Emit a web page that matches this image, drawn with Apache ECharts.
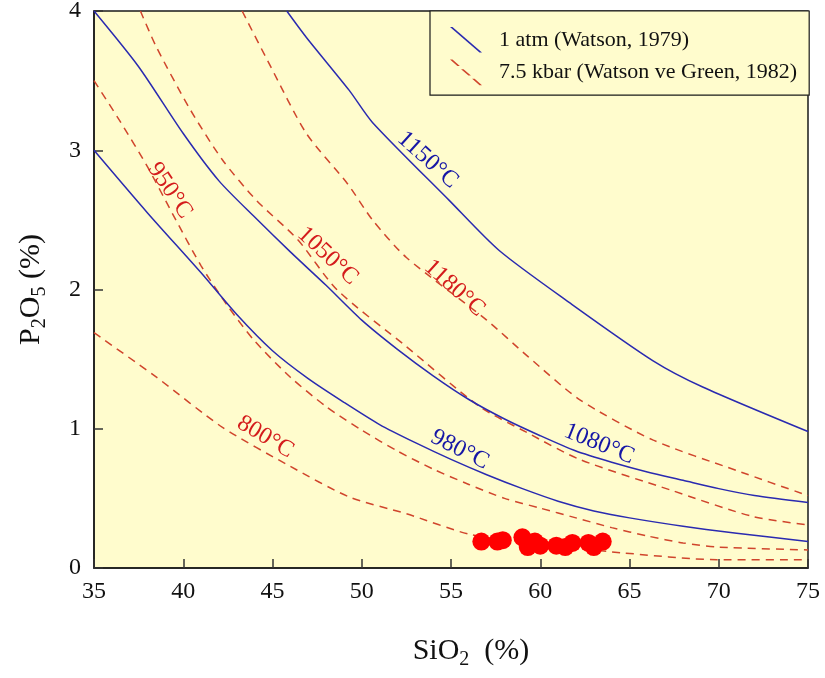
<!DOCTYPE html>
<html><head><meta charset="utf-8">
<script src="https://cdn.jsdelivr.net/npm/echarts@6/dist/echarts.min.js"></script>
<style>html,body{margin:0;padding:0;background:#fff}#c{width:825px;height:678px}</style>
</head><body><div id="c"></div>
<script>
// ---- data (SiO2 %, P2O5 %) ----
const xTicks = [35, 40, 45, 50, 55, 60, 65, 70, 75];
const yTicks = [0, 1, 2, 3, 4];

const atmName = '1 atm (Watson, 1979)';
const kbarName = '7.5 kbar (Watson ve Green, 1982)';

// 1 atm isotherms (Watson, 1979)
const atm980X = [35, 38, 41, 43, 45, 47, 49, 51, 53, 55, 57, 59, 61, 63, 65, 68, 71, 75];
const atm980Y = [3.0, 2.55, 2.12, 1.82, 1.56, 1.36, 1.19, 1.03, 0.90, 0.78, 0.67, 0.57, 0.48, 0.41, 0.36, 0.30, 0.25, 0.19];
const atm1080X = [35, 37.5, 40, 42, 44, 46, 48, 50, 52, 54, 56, 58, 60, 62, 64, 66, 68, 70, 72, 75];
const atm1080Y = [4.0, 3.6, 3.12, 2.78, 2.52, 2.27, 2.03, 1.78, 1.57, 1.38, 1.21, 1.07, 0.95, 0.84, 0.76, 0.69, 0.63, 0.57, 0.52, 0.47];
const atm1150X = [45.8, 46.9, 49.3, 50.6, 54.9, 57.7, 61.7, 66.3, 69.1, 75];
const atm1150Y = [4.0, 3.81, 3.43, 3.20, 2.64, 2.28, 1.90, 1.49, 1.30, 0.98];

// 7.5 kbar isotherms (Watson & Green, 1982)
const kb800X = [35, 38.5, 42.2, 46, 49.3, 52.5, 56.1, 60, 64.5, 69.9, 75];
const kb800Y = [1.69, 1.37, 1.01, 0.73, 0.51, 0.39, 0.24, 0.17, 0.11, 0.06, 0.06];
const kb950X = [35, 36.5, 38, 39.5, 41, 42.5, 44, 46, 48, 50, 52, 54, 56, 58, 60, 62, 64, 66, 68, 70, 75];
const kb950Y = [3.50, 3.20, 2.88, 2.52, 2.17, 1.88, 1.63, 1.37, 1.16, 0.99, 0.84, 0.71, 0.60, 0.50, 0.43, 0.36, 0.29, 0.23, 0.18, 0.15, 0.13];
const kb1050X = [37.6, 38.5, 40.4, 42.2, 44.1, 46.4, 48.6, 52.5, 56.6, 59.3, 62.2, 67.3, 71.9, 75];
const kb1050Y = [4.0, 3.74, 3.29, 2.93, 2.64, 2.36, 2.00, 1.59, 1.16, 0.97, 0.78, 0.56, 0.37, 0.31];
const kb1180X = [43.3, 44.9, 46.9, 49.2, 50.6, 52.5, 57.0, 59.3, 62.2, 66.3, 71.0, 75];
const kb1180Y = [4.0, 3.60, 3.12, 2.76, 2.50, 2.23, 1.78, 1.52, 1.21, 0.92, 0.70, 0.52];

// samples
const sampleX = [56.7, 57.6, 57.9, 59.0, 59.3, 59.7, 60.0, 60.9, 61.4, 61.8, 62.7, 63.0, 63.5];
const sampleY = [0.19, 0.19, 0.20, 0.22, 0.15, 0.19, 0.16, 0.16, 0.15, 0.18, 0.18, 0.15, 0.19];

// isotherm labels
const blueLabelText = ['1150°C', '1080°C', '980°C'];
const blueLabelX = [53.7, 63.3, 55.5];
const blueLabelY = [2.93, 0.89, 0.85];
const blueLabelRot = [-42, -22, -27];
const redLabelText = ['950°C', '1050°C', '1180°C', '800°C'];
const redLabelX = [39.26, 48.1, 55.2, 44.6];
const redLabelY = [2.71, 2.24, 2.01, 0.94];
const redLabelRot = [-56, -43, -42, -31];

// ---- styling ----
const SERIF = 'Liberation Serif';
const BLUE = '#2a2ab0';
const RED_LINE = '#d0452c';
const RED_TXT = '#d41c1c';
const BLUE_TXT = '#1616a6';

function zip(xs, ys) { return xs.map((x, i) => [x, ys[i]]); }

function atmSeries(xs, ys) {
  return { type: 'line', name: atmName, data: zip(xs, ys), showSymbol: false, symbol: 'none',
    smooth: 0.25, color: BLUE, lineStyle: { color: BLUE, width: 1.5 }, z: 3 };
}
function kbSeries(xs, ys) {
  return { type: 'line', name: kbarName, data: zip(xs, ys), showSymbol: false, symbol: 'none',
    smooth: 0.25, color: RED_LINE, lineStyle: { color: RED_LINE, width: 1.5, type: [8, 6] }, z: 2 };
}
function labelSeries(name, texts, xs, ys, rots, color) {
  return { type: 'scatter', name: name, symbolSize: 0, z: 6, silent: true,
    data: texts.map((t, i) => ({ value: [xs[i], ys[i]], name: t,
      label: { rotate: rots[i] } })),
    label: { show: true, position: 'inside', formatter: p => p.name, color: color, opacity: 1,
      fontFamily: SERIF, fontSize: 24 } };
}

const richSub = {
  n: { fontFamily: SERIF, fontSize: 30, color: '#111', verticalAlign: 'middle', lineHeight: 36 },
  sub: { fontFamily: SERIF, fontSize: 20, color: '#111', verticalAlign: 'bottom', padding: [18, 0, 0, 0] }
};

const blueIcon = 'path://M0,0 L2.5,0 L32.5,26 L30,26 Z';
const redIcon = 'path://M0,0 L2.5,0 L10,6.5 L7.5,6.5 Z M11.25,9.75 L13.75,9.75 L21.25,16.25 L18.75,16.25 Z M22.5,19.5 L25,19.5 L32.5,26 L30,26 Z';

const chart = echarts.init(document.getElementById('c'), null, { renderer: 'canvas' });
chart.setOption({
  animation: false,
  backgroundColor: '#ffffff',
  grid: { left: 94, right: 17, top: 11, bottom: 110, show: true, backgroundColor: '#fffccd',
    borderColor: '#1a1a1a', borderWidth: 1.5, containLabel: false, outerBoundsMode: 'none' },
  legend: {
    data: [{ name: atmName, icon: blueIcon }, { name: kbarName, icon: redIcon }],
    orient: 'vertical', left: 430, top: 11,
    padding: [16, 12, 10, 20], itemGap: 7, itemWidth: 32, itemHeight: 26,
    backgroundColor: '#fffccd', borderColor: '#1a1a1a', borderWidth: 1.2,
    itemStyle: { borderWidth: 0 },
    textStyle: { fontFamily: SERIF, fontSize: 22, color: '#111', padding: [9, 0, 0, 12] },
    selectedMode: false
  },
  xAxis: {
    type: 'value', min: xTicks[0], max: xTicks[xTicks.length - 1], interval: 5,
    name: '{n|SiO}{sub|2}{n|  (%)}', nameLocation: 'middle', nameGap: 64,
    nameTextStyle: { rich: richSub, padding: [0, 0, 0, 40] },
    axisLine: { show: true, onZero: false, lineStyle: { color: '#1a1a1a', width: 1.5 } },
    axisTick: { show: true, inside: true, length: 9, lineStyle: { color: '#333', width: 1.5 } },
    axisLabel: { fontFamily: SERIF, fontSize: 24, color: '#111', margin: 12 },
    splitLine: { show: false }
  },
  yAxis: {
    type: 'value', min: yTicks[0], max: yTicks[yTicks.length - 1], interval: 1,
    name: '{n|P}{sub|2}{n|O}{sub|5}{n| (%)}', nameLocation: 'middle', nameGap: 44, nameRotate: 90,
    nameTextStyle: { rich: richSub },
    axisLine: { show: true, onZero: false, lineStyle: { color: '#1a1a1a', width: 1.5 } },
    axisTick: { show: true, inside: true, length: 9, lineStyle: { color: '#333', width: 1.5 } },
    axisLabel: { fontFamily: SERIF, fontSize: 24, color: '#111', margin: 13 },
    splitLine: { show: false }
  },
  series: [
    kbSeries(kb800X, kb800Y),
    kbSeries(kb950X, kb950Y),
    kbSeries(kb1050X, kb1050Y),
    kbSeries(kb1180X, kb1180Y),
    atmSeries(atm980X, atm980Y),
    atmSeries(atm1080X, atm1080Y),
    atmSeries(atm1150X, atm1150Y),
    { type: 'scatter', name: 'samples', data: zip(sampleX, sampleY), symbolSize: 18,
      itemStyle: { color: '#ff0000', opacity: 1 }, z: 5 },
    labelSeries('blueLabels', blueLabelText, blueLabelX, blueLabelY, blueLabelRot, BLUE_TXT),
    labelSeries('redLabels', redLabelText, redLabelX, redLabelY, redLabelRot, RED_TXT)
  ]
});
</script></body></html>
